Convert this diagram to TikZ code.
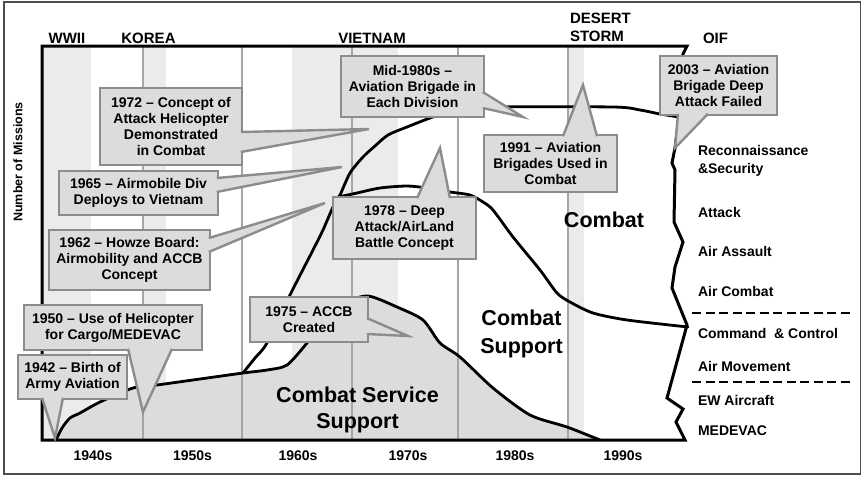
\documentclass[tikz,border=0pt]{standalone}
\usepackage{fontspec}
\setmainfont{Liberation Sans}
\definecolor{bandgray}{HTML}{EBEBEB}
\definecolor{supportgray}{HTML}{DCDCDC}
\definecolor{gridgray}{HTML}{A6A6A6}
\definecolor{boxfill}{HTML}{DCDCDC}
\definecolor{boxline}{HTML}{8C8C8C}
\definecolor{framegray}{HTML}{4D4D4D}
\begin{document}
\begin{tikzpicture}[x=1pt, y=-1pt,
  every node/.style={inner sep=0pt, outer sep=0pt},
  band/.style={fill=bandgray},
  gridline/.style={draw=gridgray, line width=2pt},
  supportfill/.style={fill=supportgray},
  curve/.style={draw=black, line width=2.8pt, line join=round, line cap=round},
  plotframe/.style={draw=black, line width=3pt, line join=miter},
  callbox/.style={draw=boxline, fill=boxfill, line width=2.4pt, align=center,
    font=\bfseries\fontsize{14}{16}\selectfont},
  callptr/.style={draw=boxline, fill=boxfill, line width=2.4pt, line join=miter},
  era/.style={font=\bfseries\fontsize{15}{18}\selectfont, anchor=base},
  decade/.style={font=\bfseries\fontsize{14}{16}\selectfont, anchor=base},
  mission/.style={font=\bfseries\fontsize{14}{16}\selectfont, anchor=base west},
  area/.style={font=\bfseries\fontsize{21.5}{26}\selectfont, anchor=base},
  axislabel/.style={font=\bfseries\fontsize{12.5}{15}\selectfont, rotate=90},
  divider/.style={draw=black, line width=2.6pt, dash pattern=on 9pt off 4.5pt}
]
\useasboundingbox (0,0) rectangle (862,477);
% outer frame
\draw[framegray, line width=1.4pt] (4,2) rectangle (860.5,474);

% war periods
\fill[band] (42,46) rectangle (91,440);
\fill[band] (143,46) rectangle (166,440);
\fill[band] (292,46) rectangle (398,440);
\fill[band] (568,46) rectangle (584,440);

% combat service support area
\fill[supportfill] plot[smooth, tension=0.45] coordinates {
  (56,440) (62,428) (70,418) (80,413) (100,402) (133,388) (157,385) (200,379)
  (243,373) (267,370) (287,365) (307,343) (325,320) (345,303) (368,296)
  (397,307) (423,320) (440,343) (460,357) (493,388) (530,415) (567,427) (600,440)} -- cycle;

% decade boundaries
\foreach \gx in {143,242,352,458,568}
  \draw[gridline] (\gx,46) -- (\gx,440);

% mission curves
\draw[curve] plot[smooth, tension=0.45] coordinates {
  (56,440) (62,428) (70,418) (80,413) (100,402) (133,388) (157,385) (200,379)
  (243,373) (267,370) (287,365) (307,343) (325,320) (345,303) (368,296)
  (397,307) (423,320) (440,343) (460,357) (493,388) (530,415) (567,427) (600,440)};
\draw[curve] plot[smooth, tension=0.45] coordinates {
  (243,373) (255,358) (267,343) (290,295) (313,250) (323,230) (333,207) (340,195)
  (350,173) (363,157) (375,146) (388,135) (407,127) (433,117) (460,110) (485,107)
  (613,107) (640,110) (660,114) (679,117)};
\draw[curve] plot[smooth, tension=0.45] coordinates {
  (338,197) (357,193) (380,188) (407,186) (427,188) (450,192) (470,195) (483,202)
  (493,210) (513,237) (540,270) (557,293) (570,302) (593,313) (627,320) (688,327)};

% plot frame with broken right edge
\draw[plotframe] (687,46) -- (42,46) -- (42,440) -- (685,440) -- (676,422) -- (683,409)
  -- (667,398) -- (687,325) -- (672,288) -- (675,267) -- (683,242) -- (674,222)
  -- (675,170) -- (672,163) -- (675,148) -- (679,117) -- (683,54) -- cycle;

% pointer tips
\coordinate (t1972) at (369,129);
\coordinate (t1965) at (342,167);
\coordinate (t1962) at (325,203);
\coordinate (t1950) at (143,412);
\coordinate (t1942) at (55,438);
\coordinate (t1975) at (408,336);
\coordinate (t1978) at (440,148);
\coordinate (tmid80) at (523,117);
\coordinate (t1991) at (583,85);
\coordinate (t2003) at (675,148);

% callouts
\node[callbox, minimum width=142pt, minimum height=77pt] (c1972) at (171,126.5)
  {1972 – Concept of\\Attack Helicopter\\Demonstrated\\in Combat};
\filldraw[callptr] (240.8,132) -- (t1972) -- (240.8,152);

\node[callbox, minimum width=159pt, minimum height=44pt] (c1965) at (138.5,193)
  {1965 – Airmobile Div\\Deploys to Vietnam};
\filldraw[callptr] (216.8,178) -- (t1965) -- (216.8,192);

\node[callbox, minimum width=161pt, minimum height=60pt] (c1962) at (129.5,260)
  {1962 – Howze Board:\\Airmobility and ACCB\\Concept};
\filldraw[callptr] (208.8,238) -- (t1962) -- (208.8,252);

\node[callbox, minimum width=178pt, minimum height=45pt] (c1950) at (113,327.5)
  {1950 – Use of Helicopter\\for Cargo/MEDEVAC};
\filldraw[callptr] (128,348.8) -- (t1950) -- (172,348.8);

\node[callbox, minimum width=109pt, minimum height=44pt] (c1942) at (72.5,377)
  {1942 – Birth of\\Army Aviation};
\filldraw[callptr] (42,397.8) -- (t1942) -- (63,397.8);

\node[callbox, minimum width=118pt, minimum height=45pt] (c1975) at (309,319.5)
  {1975 – ACCB\\Created};
\filldraw[callptr] (366.8,318) -- (t1975) -- (366.8,334);

\node[callbox, minimum width=143pt, minimum height=62pt] (c1978) at (404.5,228)
  {1978 – Deep\\Attack/AirLand\\Battle Concept};
\filldraw[callptr] (417,198.2) -- (t1978) -- (450,198.2);

\node[callbox, minimum width=143pt, minimum height=61pt] (cmid80) at (412.5,86.5)
  {Mid-1980s –\\Aviation Brigade in\\Each Division};
\filldraw[callptr] (482.8,92) -- (tmid80) -- (482.8,108);

\node[callbox, minimum width=133pt, minimum height=57pt] (c1991) at (550.5,163.5)
  {1991 – Aviation\\Brigades Used in\\Combat};
\filldraw[callptr] (563,136.2) -- (t1991) -- (597,136.2);

\node[callbox, minimum width=117pt, minimum height=59pt] (c2003) at (718.5,85.5)
  {2003 – Aviation\\Brigade Deep\\Attack Failed};
\filldraw[callptr] (678,113.8) -- (t2003) -- (708,113.8);

% conflicts
\node[era] (wwii) at (67,43) {WWII};
\node[era] (korea) at (148.5,43) {KOREA};
\node[era] (vietnam) at (372,43) {VIETNAM};
\node[era, anchor=base west] (desert) at (570,23) {DESERT};
\node[era, anchor=base west] (storm) at (570,41) {STORM};
\node[era] (oif) at (715.5,43) {OIF};

% decades
\node[decade] (d40) at (93,460) {1940s};
\node[decade] (d50) at (192.5,460) {1950s};
\node[decade] (d60) at (298,460) {1960s};
\node[decade] (d70) at (408,460) {1970s};
\node[decade] (d80) at (515,460) {1980s};
\node[decade] (d90) at (623,460) {1990s};

% axis
\node[axislabel] (ylab) at (18,162) {Number of Missions};

% areas
\node[area] (combat) at (604,227) {Combat};
\node[area] (cs1) at (521.5,325) {Combat};
\node[area] (cs2) at (521.5,353) {Support};
\node[area] (css1) at (357.5,402) {Combat Service};
\node[area] (css2) at (357.5,428) {Support};

% mission types
\node[mission] (m1) at (698,155) {Reconnaissance};
\node[mission] (m2) at (698,173) {\&Security};
\node[mission] (m3) at (698,217) {Attack};
\node[mission] (m4) at (698,256) {Air Assault};
\node[mission] (m5) at (698,296) {Air Combat};
\coordinate (div1a) at (692,313);
\coordinate (div1b) at (850,313);
\draw[divider] (div1a) -- (div1b);
\node[mission] (m6) at (698,338) {Command~~\& Control};
\node[mission] (m7) at (698,371) {Air Movement};
\coordinate (div2a) at (692,382);
\coordinate (div2b) at (850,382);
\draw[divider] (div2a) -- (div2b);
\node[mission] (m8) at (698,405) {EW Aircraft};
\node[mission] (m9) at (698,435) {MEDEVAC};
\end{tikzpicture}
\end{document}
